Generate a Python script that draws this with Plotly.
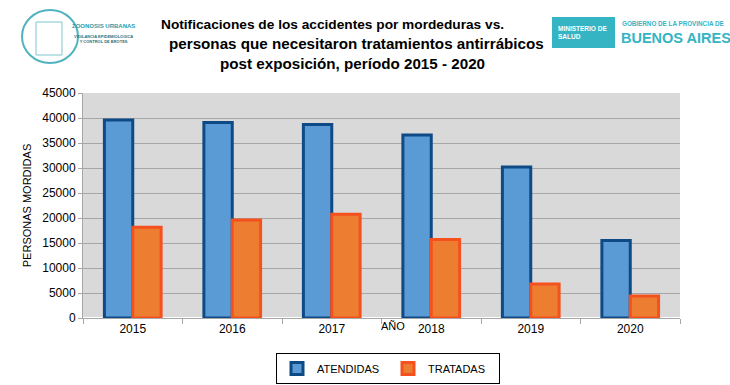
import plotly.graph_objects as go

years = ["2015", "2016", "2017", "2018", "2019", "2020"]
atendidas = [39600, 39100, 38700, 36600, 30200, 15500]
tratadas = [18150, 19600, 20750, 15700, 6800, 4400]
y_ticks = [0, 5000, 10000, 15000, 20000, 25000, 30000, 35000, 40000, 45000]

fig = go.Figure()
fig.add_trace(go.Bar(
    x=years, y=atendidas, name="ATENDIDAS",
    marker=dict(color="#5B9BD5", line=dict(color="#0E4A86", width=3)),
))
fig.add_trace(go.Bar(
    x=years, y=tratadas, name="TRATADAS",
    marker=dict(color="#ED7D31", line=dict(color="#F4511E", width=3)),
))

font_family = "Liberation Sans, Arial, sans-serif"
L, R, T, B = 83, 680, 93, 318

def px(x):
    return (x - L) / (R - L)

def py(y):
    return (B - y) / (B - T)

fig.update_layout(
    width=730, height=385,
    margin=dict(l=L, r=730 - R, t=T, b=385 - B, autoexpand=False),
    paper_bgcolor="white",
    plot_bgcolor="#D9D9D9",
    font=dict(family=font_family, color="black", size=12),
    barmode="group",
    bargap=0.43,
    bargroupgap=0,
    showlegend=True,
    legend=dict(
        orientation="h", x=px(388), xanchor="center", y=py(353), yanchor="top",
        bordercolor="black", borderwidth=1, font=dict(size=11),
        itemwidth=30, bgcolor="white", tracegroupgap=0,
        entrywidth=66, entrywidthmode="pixels",
    ),
    xaxis=dict(
        type="category", tickson="boundaries", ticks="outside", ticklen=5,
        tickcolor="#A6A6A6", showline=True, linecolor="#A6A6A6",
        showgrid=False, tickfont=dict(size=12), automargin=False,
    ),
    yaxis=dict(
        range=[0, 45000], tickvals=y_ticks, ticktext=[str(v) for v in y_ticks],
        showgrid=True, gridcolor="#A6A6A6", gridwidth=1,
        ticks="outside", ticklen=4, tickcolor="#A6A6A6",
        showline=True, linecolor="#A6A6A6", automargin=False,
        title=dict(text="PERSONAS MORDIDAS", font=dict(size=11), standoff=8),
        tickfont=dict(size=12),
    ),
)

# Title lines
title_lines = [
    ("Notificaciones de los accidentes por mordeduras vs.", 332, 24, 13.7),
    ("personas que necesitaron tratamientos antirrábicos", 356, 44, 15.2),
    ("post exposición, período 2015 - 2020", 352, 63, 15.2),
]
for text, xc, yc, fs in title_lines:
    fig.add_annotation(
        text=f"<b>{text}</b>", xref="paper", yref="paper",
        x=px(xc), y=py(yc),
        xanchor="center", yanchor="middle", showarrow=False,
        font=dict(size=fs, family=font_family, color="black"),
    )

# X axis title "AÑO"
fig.add_annotation(
    text="AÑO", xref="paper", yref="paper",
    x=px(393), y=py(326),
    xanchor="center", yanchor="middle", showarrow=False,
    font=dict(size=11, family=font_family),
)

# Right logo (approximation)
fig.add_shape(type="rect", xref="paper", yref="paper",
              x0=px(552), x1=px(615), y0=py(48), y1=py(17),
              fillcolor="#35B4C4", line=dict(width=0))
fig.add_annotation(text="<b>MINISTERIO DE<br>SALUD</b>", xref="paper", yref="paper",
                   x=px(556), y=py(32), xanchor="left", yanchor="middle", align="left",
                   showarrow=False,
                   font=dict(size=6.5, color="white", family=font_family))
fig.add_annotation(text="<b>GOBIERNO DE LA PROVINCIA DE</b>", xref="paper", yref="paper",
                   x=px(620), y=py(23), xanchor="left", yanchor="middle",
                   showarrow=False,
                   font=dict(size=6.3, color="#35B4C4", family=font_family))
fig.add_annotation(text="<b>BUENOS AIRES</b>", xref="paper", yref="paper",
                   x=px(619), y=py(38), xanchor="left", yanchor="middle",
                   showarrow=False,
                   font=dict(size=14.5, color="#35B4C4", family=font_family))

# Left logo (approximation)
fig.add_shape(type="circle", xref="paper", yref="paper",
              x0=px(22), x1=px(78), y0=py(63), y1=py(10),
              fillcolor="rgba(0,0,0,0)", line=dict(color="#4FB3BF", width=2))
fig.add_shape(type="rect", xref="paper", yref="paper",
              x0=px(36), x1=px(62), y0=py(55), y1=py(22),
              fillcolor="rgba(0,0,0,0)", line=dict(color="#7CC7CF", width=1))
fig.add_annotation(text="<b>ZOONOSIS URBANAS</b>", xref="paper", yref="paper",
                   x=px(103), y=py(26), xanchor="center", yanchor="middle",
                   showarrow=False,
                   font=dict(size=6, color="#2E9BAA", family=font_family))
fig.add_annotation(text="<b>VIGILANCIA EPIDEMIOLOGICA<br>Y CONTROL DE BROTES</b>",
                   xref="paper", yref="paper",
                   x=px(103), y=py(39), xanchor="center", yanchor="middle",
                   showarrow=False,
                   font=dict(size=4, color="#2E6F7A", family=font_family))

fig.write_html("out.html", config={"displayModeBar": False},
               post_script="document.body.style.margin='0px';")
